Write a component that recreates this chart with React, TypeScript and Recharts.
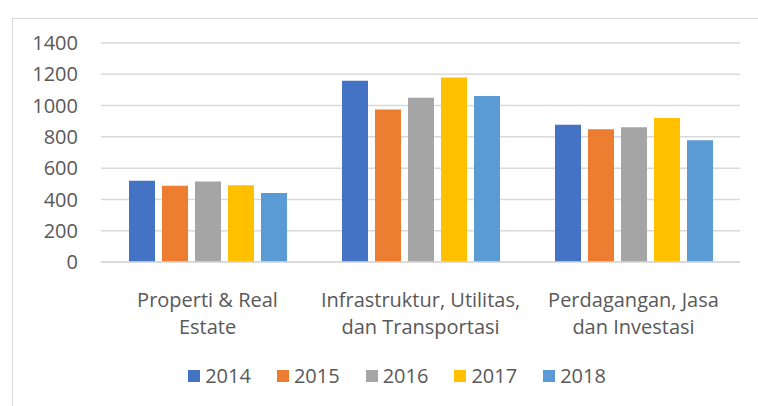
import { BarChart, Bar, XAxis, YAxis, CartesianGrid, Legend } from 'recharts'

const categories = ['Properti & Real Estate', 'Infrastruktur, Utilitas, dan Transportasi', 'Perdagangan, Jasa dan Investasi']
const categoryLines = [
  ['Properti & Real', 'Estate'],
  ['Infrastruktur, Utilitas,', 'dan Transportasi'],
  ['Perdagangan, Jasa', 'dan Investasi'],
]
const years = ['2014', '2015', '2016', '2017', '2018']
const values2014 = [520, 1158, 878]
const values2015 = [488, 975, 848]
const values2016 = [514, 1050, 861]
const values2017 = [490, 1179, 921]
const values2018 = [441, 1061, 779]
const yTicks = [0, 200, 400, 600, 800, 1000, 1200, 1400]

const colors = ['#4472C4', '#ED7D31', '#A5A5A5', '#FFC000', '#5B9BD5']
const series = [values2014, values2015, values2016, values2017, values2018]

const data = categories.map((name, i) => {
  const row: Record<string, string | number> = { name }
  years.forEach((y, j) => {
    row[y] = series[j][i]
  })
  return row
})

const FONT = '"Open Sans", Lato, sans-serif'
const TEXT = '#595959'

function CategoryTick({ x, y, payload }: any) {
  const idx = categories.indexOf(payload.value)
  const lines = categoryLines[idx] ?? [payload.value]
  return (
    <text x={x} y={y} textAnchor="middle" fill={TEXT} fontSize={20} fontFamily={FONT}>
      {lines.map((l, i) => (
        <tspan key={i} x={x} dy={i === 0 ? 37 : 27}>
          {l}
        </tspan>
      ))}
    </text>
  )
}

function LegendContent() {
  return (
    <div style={{ display: 'flex', justifyContent: 'center', gap: 26, fontFamily: FONT, fontSize: 20, color: TEXT, paddingLeft: 36 }}>
      {years.map((y, i) => (
        <div key={y} style={{ display: 'flex', alignItems: 'center' }}>
          <span style={{ width: 12, height: 12, background: colors[i], display: 'inline-block', marginRight: 5 }} />
          {y}
        </div>
      ))}
    </div>
  )
}

export default function App() {
  return (
    <div style={{ position: 'fixed', left: 0, top: 0, width: 758, height: 406, background: '#fff', overflow: 'hidden' }}>
      <div
        style={{
          position: 'absolute',
          left: 12,
          top: 18,
          width: 800,
          height: 500,
          border: '1px solid #d9d9d9',
        }}
      />
      <div style={{ position: 'absolute', left: 0, top: 0 }}>
        <BarChart
          width={758}
          height={406}
          data={data}
          margin={{ top: 43, right: 18, left: 0, bottom: 0 }}
          barCategoryGap={28}
          barGap={7}
        >
          <CartesianGrid vertical={false} stroke="#d9d9d9" strokeWidth={1.5} />
          <XAxis
            dataKey="name"
            tick={<CategoryTick />}
            tickLine={false}
            axisLine={{ stroke: '#d9d9d9', strokeWidth: 1.5 }}
            interval={0}
            height={144}
          />
          <YAxis
            domain={[0, 1400]}
            ticks={yTicks}
            interval={0}
            width={101}
            tickSize={0}
            tickMargin={23}
            axisLine={false}
            tickLine={false}
            tick={{ fill: TEXT, fontSize: 20, fontFamily: FONT }}
          />
          <Legend
            verticalAlign="bottom"
            content={<LegendContent />}
            wrapperStyle={{ position: 'absolute', top: 362, left: 0, width: 758, height: 0, bottom: 'auto' }}
          />
          {years.map((y, i) => (
            <Bar key={y} dataKey={y} fill={colors[i]} isAnimationActive={false} />
          ))}
        </BarChart>
      </div>
    </div>
  )
}
